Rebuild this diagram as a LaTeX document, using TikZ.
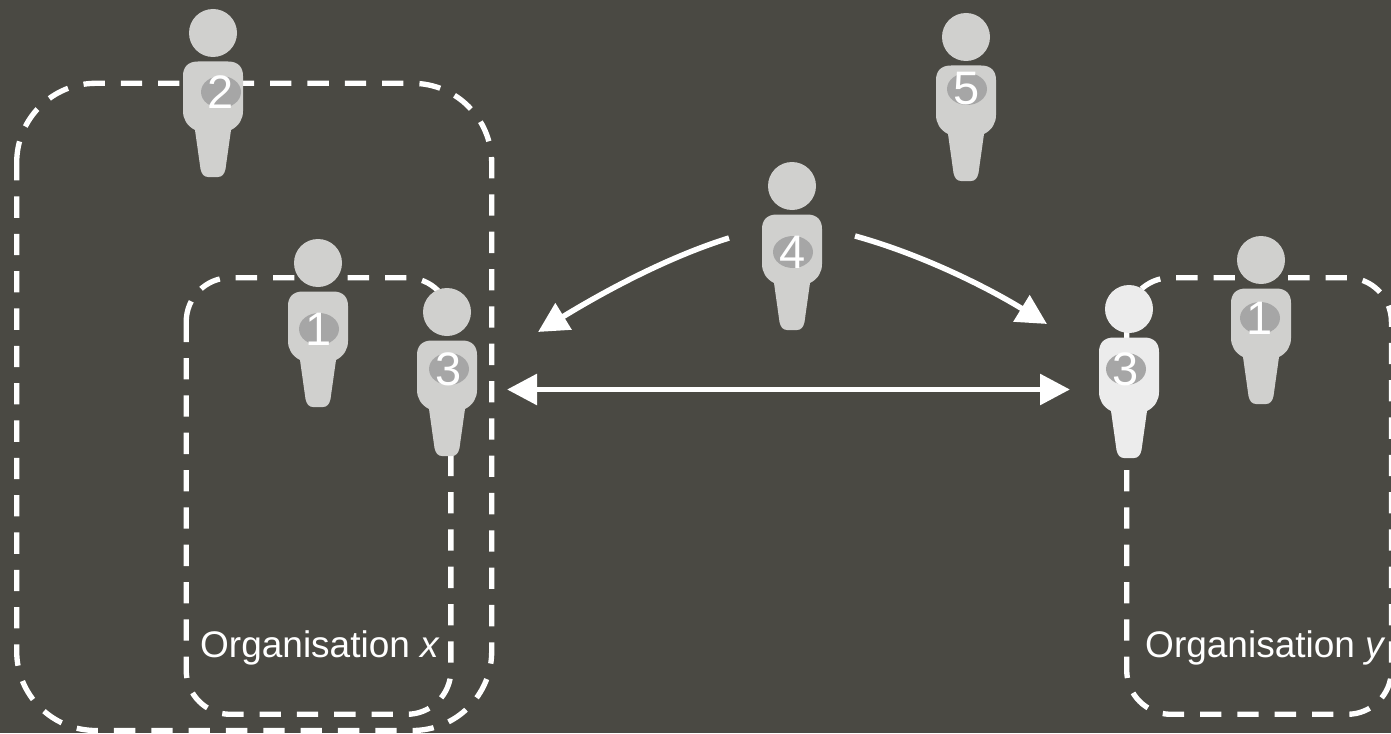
\documentclass[tikz,border=0pt]{standalone}
\usepackage{fontspec}
\setmainfont{Liberation Sans}
\usetikzlibrary{arrows.meta}
\definecolor{bgdark}{HTML}{4A4943}
\definecolor{personfill}{HTML}{D0D0CE}
\definecolor{personlight}{HTML}{ECECEC}
\definecolor{badge}{HTML}{A6A6A6}
\tikzset{
  orgbox/.style={draw=white,line width=5.33pt,dash pattern=on 21.33pt off 16pt,line cap=butt},
  bigarrow/.style={draw=white,line width=5.8pt,{Triangle[length=30pt,width=30pt]}-{Triangle[length=30pt,width=30pt]}},
  curvearrow/.style={draw=white,line width=5.5pt,-{Triangle[length=30pt,width=30pt]}},
  digit/.style={text=white,font=\fontsize{47}{47}\selectfont,inner sep=0pt},
  orglabel/.style={text=white,font=\fontsize{37}{40}\selectfont,inner sep=0pt,anchor=base west}
}
% name, head x, head y, digit, badge x, badge y, fill, extra body length
\newcommand{\person}[8]{%
  \begin{scope}[shift={(#2,#3)}]
    \fill[#7] (0,0) circle[radius=24];
    \fill[#7] (0,28.5) -- (-15,28.5) .. controls (-25,28.5) and (-30,34) .. (-30,43)
      -- (-30,78+#8) .. controls (-30,86+#8) and (-26,93+#8) .. (-18,97+#8)
      -- (-12.5,136+#8) .. controls (-11.5,141+#8) and (-9,144+#8) .. (-5,144+#8)
      -- (5,144+#8) .. controls (9,144+#8) and (11.5,141+#8) .. (12.5,136+#8)
      -- (18,97+#8) .. controls (26,93+#8) and (30,86+#8) .. (30,78+#8)
      -- (30,43) .. controls (30,34) and (25,28.5) .. (15,28.5) -- cycle;
  \end{scope}
  \fill[badge] (#5,#6) circle[x radius=20,y radius=16];
  \node[digit] (#1) at (#5,#6) {#4};
}
% left, right, top, bottom, radius: starts where the top-left corner meets the left side
\newcommand{\orgpath}[5]{%
  \pgfmathsetmacro{\kk}{0.4477*#5}
  \draw[orgbox] (#1,#3+#5)
    .. controls (#1,#3+\kk) and (#1+\kk,#3) .. (#1+#5,#3)
    -- (#2-#5,#3) .. controls (#2-\kk,#3) and (#2,#3+\kk) .. (#2,#3+#5)
    -- (#2,#4-#5) .. controls (#2,#4-\kk) and (#2-\kk,#4) .. (#2-#5,#4)
    -- (#1+#5,#4) .. controls (#1+\kk,#4) and (#1,#4-\kk) .. (#1,#4-#5)
    -- cycle;
}
\begin{document}
\begin{tikzpicture}[x=1pt,y=-1pt]
  \useasboundingbox (0,0) rectangle (1391,733);
  \fill[bgdark] (0,0) rectangle (1391,733);
  \orgpath{16.7}{491.7}{83.3}{730.5}{79.2}
  \orgpath{186.2}{450.9}{277.7}{714.3}{44.1}
  \orgpath{1126.7}{1391.4}{277.7}{714.3}{44.1}

  \person{two}{213}{33}{2}{221}{92}{personfill}{0}
  \person{five}{966}{37}{5}{967}{89}{personfill}{0}
  \person{four}{792}{186}{4}{793}{252}{personfill}{0}
  \person{onex}{318}{263}{1}{319}{329}{personfill}{0}
  \person{threex}{447}{312}{3}{449}{369}{personfill}{0}
  \person{threey}{1129}{309}{3}{1126}{369}{personlight}{5}
  \person{oney}{1261}{260}{1}{1260}{318}{personfill}{0}

  \node[orglabel] (orgx) at (200,657) {Organisation \textit{x}};
  \node[orglabel] (orgy) at (1145,657) {Organisation \textit{y}};

  \coordinate (lstart) at (729,238);
  \coordinate (lend) at (538,332);
  \coordinate (rstart) at (855,236);
  \coordinate (rend) at (1047,324);
  \coordinate (hleft) at (507,389.5);
  \coordinate (hright) at (1070,389.5);
  \draw[curvearrow] (lstart) .. controls (665,258) and (600,294) .. (lend);
  \draw[curvearrow] (rstart) .. controls (920,254) and (985,286) .. (rend);
  \draw[bigarrow] (hleft) -- (hright);
\end{tikzpicture}
\end{document}
